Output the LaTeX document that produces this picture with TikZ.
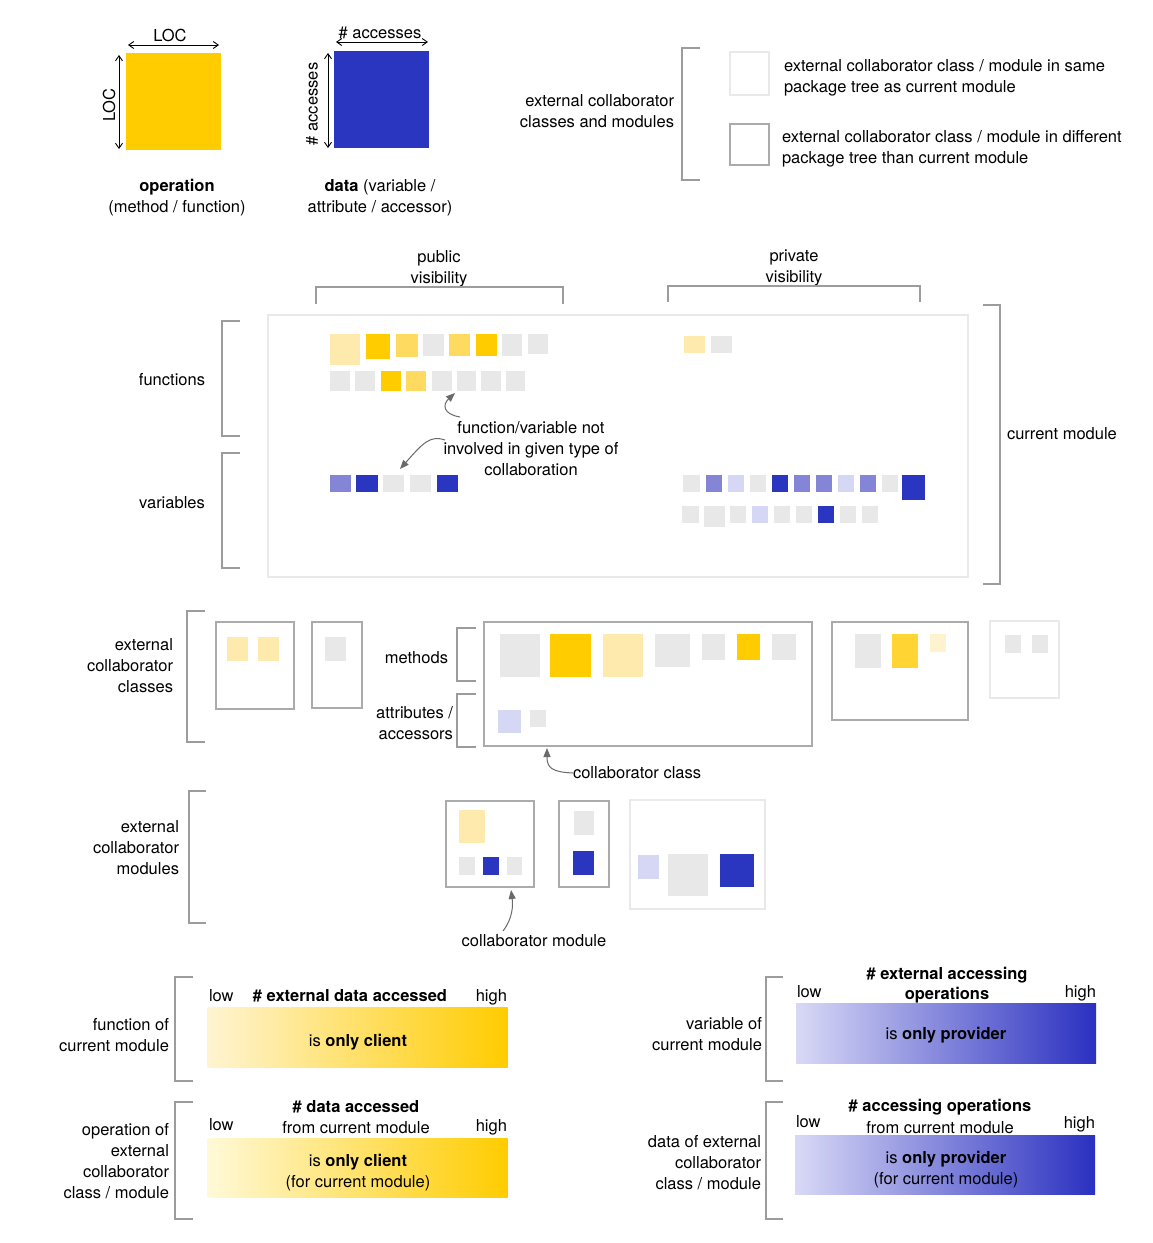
\documentclass[tikz,border=0pt]{standalone}
\usepackage{fontspec}
\setmainfont{TeX Gyre Heros}
\usetikzlibrary{arrows.meta,calc}
\definecolor{yfull}{HTML}{FFCC00}
\definecolor{ymid}{HTML}{FFDA60}
\definecolor{ylight}{HTML}{FFEAAD}
\definecolor{yvlight}{HTML}{FFF3CF}
\definecolor{ybright}{HTML}{FFD433}
\definecolor{ygradA}{HTML}{FFF4D2}
\definecolor{ygradB}{HTML}{FFF9D8}
\definecolor{bfull}{HTML}{2A35C0}
\definecolor{bmid}{HTML}{8585D8}
\definecolor{blight}{HTML}{D6D6F5}
\definecolor{bgradA}{HTML}{D9D9F6}
\definecolor{bgradB}{HTML}{2A30C0}
\definecolor{gsq}{HTML}{E8E8E8}
\definecolor{bdark}{HTML}{ABABAB}
\definecolor{blightb}{HTML}{E9E9E9}
\definecolor{brkc}{HTML}{9C9C9C}
\definecolor{annc}{HTML}{6A6A6A}
\newcommand\msq[6]{\node[inner sep=0pt,outer sep=0pt,fill=#6,minimum width={(#4-#2)*1pt},minimum height={(#5-#3)*1pt}] (#1) at ({(#2+#4)/2},{(#3+#5)/2}) {};}
\newcommand\mbx[6]{\node[inner sep=0pt,outer sep=0pt,draw=#6,line width=2pt,minimum width={(#4-#2)*1pt},minimum height={(#5-#3)*1pt}] (#1) at ({(#2+#4)/2},{(#3+#5)/2}) {};}
\begin{document}
\begin{tikzpicture}[x=1pt,y=-1pt,
 every node/.style={font=\fontsize{16.5}{21}\selectfont, inner sep=0pt, outer sep=0pt},
 brk/.style={draw=brkc, line width=1.3pt},
 dimarrow/.style={{Straight Barb[length=5pt,width=7pt]}-{Straight Barb[length=5pt,width=7pt]}, line width=0.9pt, draw=black},
 ann/.style={-{Triangle[length=9pt,width=7pt]}, draw=annc, fill=none, line width=1pt},
 lbl/.style={anchor=base},
]
\fill[white] (0,0) rectangle (1152,1243);
\useasboundingbox (0,0) rectangle (1152,1243);

% ---------- top-left legend ----------
\msq{opsq}{126}{53}{221}{150}{yfull}
\draw[dimarrow] ($(opsq.north west)+(2,-8)$) -- ($(opsq.north east)+(-2,-8)$);
\draw[dimarrow] ($(opsq.north west)+(-7,2)$) -- ($(opsq.south west)+(-7,-1)$);
\node[lbl] (loch) at (170,41) {LOC};
\node[rotate=90] (locv) at (109,105) {LOC};
\node[align=center] (optxt) at (177,197.5) {\textbf{operation}\\(method / function)};

\msq{datsq}{334}{51}{429}{148}{bfull}
\draw[dimarrow] ($(datsq.north west)+(2,-9)$) -- ($(datsq.north east)+(-1,-9)$);
\draw[dimarrow] ($(datsq.north west)+(-6,2)$) -- ($(datsq.south west)+(-6,0)$);
\node[lbl] (acch) at (380,38) {\# accesses};
\node[rotate=90] (accv) at (312,104) {\# accesses};
\node[align=center] (dattxt) at (380,197.5) {\textbf{data} (variable /\\attribute / accessor)};

% ---------- top-right legend ----------
\node[align=right, anchor=east] (ecltxt) at (674,111) {external collaborator\\classes and modules};
\draw[brk] (700,48) -- (682,48) -- (682,180) -- (700,180);
\mbx{leg1}{730}{52}{769}{95}{blightb}
\mbx{leg2}{730}{124}{769}{165}{bdark}
\node[align=left, anchor=west] (leg1t) at (784,78) {external collaborator class / module in same\\package tree as current module};
\node[align=left, anchor=west] (leg2t) at (782,149) {external collaborator class / module in different\\package tree than current module};

% ---------- visibility ----------
\node[align=center] (pubt) at (439,268.5) {public\\visibility};
\draw[brk] (316,304) -- (316,287) -- (563,287) -- (563,304);
\node[align=center] (privt) at (794,268) {private\\visibility};
\draw[brk] (668,302) -- (668,286) -- (920,286) -- (920,302);

% ---------- current module ----------
\mbx{cmod}{268}{315}{968}{577}{blightb}
\draw[brk] (983,305) -- (1000,305) -- (1000,584) -- (983,584);
\node[anchor=west] (cmodt) at (1007,434) {current module};

\draw[brk] (240,321) -- (222,321) -- (222,436) -- (240,436);
\node (funct) at (172,380) {functions};
\draw[brk] (240,453) -- (222,453) -- (222,568) -- (240,568);
\node (vart) at (172,503) {variables};

% functions public
\msq{f1a}{330}{334}{360}{365}{ylight}
\msq{f1b}{366}{334}{390}{359}{yfull}
\msq{f1c}{396}{334}{418}{357}{ymid}
\msq{f1d}{423}{334}{444}{356}{gsq}
\msq{f1e}{449}{334}{470}{356}{ymid}
\msq{f1f}{476}{334}{497}{356}{yfull}
\msq{f1g}{502}{334}{522}{356}{gsq}
\msq{f1h}{528}{334}{548}{354}{gsq}
\msq{f2a}{330}{371}{350}{391}{gsq}
\msq{f2b}{355}{371}{375}{391}{gsq}
\msq{f2c}{381}{371}{401}{391}{yfull}
\msq{f2d}{406}{371}{426}{391}{ymid}
\msq{f2e}{432}{371}{452}{391}{gsq}
\msq{f2f}{457}{371}{476}{391}{gsq}
\msq{f2g}{481}{371}{501}{391}{gsq}
\msq{f2h}{506}{371}{525}{391}{gsq}
% functions private
\msq{p1}{684}{336}{705}{353}{ylight}
\msq{p2}{711}{336}{732}{353}{gsq}
% variables public
\msq{v1}{330}{475}{351}{492}{bmid}
\msq{v2}{356}{475}{378}{492}{bfull}
\msq{v3}{383}{475}{404}{492}{gsq}
\msq{v4}{410}{475}{431}{492}{gsq}
\msq{v5}{437}{475}{458}{492}{bfull}
% variables private
\msq{w1}{683}{475}{700}{492}{gsq}
\msq{w2}{706}{475}{722}{492}{bmid}
\msq{w3}{728}{475}{744}{492}{blight}
\msq{w4}{750}{475}{766}{492}{gsq}
\msq{w5}{772}{475}{788}{492}{bfull}
\msq{w6}{794}{475}{810}{492}{bmid}
\msq{w7}{816}{475}{832}{492}{bmid}
\msq{w8}{838}{475}{854}{492}{blight}
\msq{w9}{860}{475}{876}{492}{bmid}
\msq{w10}{882}{475}{898}{492}{gsq}
\msq{w11}{902}{475}{925}{500}{bfull}
\msq{x1}{682}{506}{699}{523}{gsq}
\msq{x2}{704}{506}{725}{527}{gsq}
\msq{x3}{730}{506}{746}{523}{gsq}
\msq{x4}{752}{506}{768}{523}{blight}
\msq{x5}{774}{506}{790}{523}{gsq}
\msq{x6}{796}{506}{812}{523}{gsq}
\msq{x7}{818}{506}{834}{523}{bfull}
\msq{x8}{840}{506}{856}{523}{gsq}
\msq{x9}{862}{506}{878}{523}{gsq}

\node[align=center] (annt) at (531,449) {function/variable not\\involved in given type of\\collaboration};
\coordinate (a1s) at (460,417);
\coordinate (a2s) at (445,440);
\draw[ann] (a1s) .. controls (442,414) and (443,404) .. ($(f2f.south west)+(-2,2)$);
\draw[ann] (a2s) .. controls (430,435) and (423,443) .. ($(v3.north east)+(-4,-6)$);

% ---------- external collaborator classes ----------
\draw[brk] (205,611) -- (187,611) -- (187,742) -- (205,742);
\node[align=right, anchor=east] (ecct) at (173,666) {external\\collaborator\\classes};
\mbx{ca}{216}{622}{294}{709}{bdark}
\msq{ca1}{227}{637}{248}{661}{ylight}
\msq{ca2}{258}{637}{279}{661}{ylight}
\mbx{cb}{312}{622}{362}{708}{bdark}
\msq{cb1}{325}{637}{346}{661}{gsq}

\node[anchor=east] (metht) at (448,658) {methods};
\draw[brk] (476,628) -- (457,628) -- (457,681) -- (476,681);
\node[align=right, anchor=east] (attrt) at (453,723) {attributes /\\accessors};
\draw[brk] (476,694) -- (457,694) -- (457,747) -- (476,747);

\mbx{cc}{484}{622}{812}{746}{bdark}
\msq{cc1}{500}{634}{540}{677}{gsq}
\msq{cc2}{550}{634}{591}{677}{yfull}
\msq{cc3}{603}{634}{643}{677}{ylight}
\msq{cc4}{655}{634}{690}{667}{gsq}
\msq{cc5}{702}{634}{725}{660}{gsq}
\msq{cc6}{737}{634}{760}{660}{yfull}
\msq{cc7}{772}{634}{796}{660}{gsq}
\msq{cc8}{498}{710}{521}{733}{blight}
\msq{cc9}{530}{710}{546}{727}{gsq}

\mbx{cd}{832}{622}{968}{720}{bdark}
\msq{cd1}{855}{634}{881}{668}{gsq}
\msq{cd2}{892}{634}{918}{668}{ybright}
\msq{cd3}{930}{634}{946}{652}{yvlight}

\mbx{ce}{990}{621}{1059}{698}{blightb}
\msq{ce1}{1005}{635}{1021}{653}{gsq}
\msq{ce2}{1032}{635}{1048}{653}{gsq}

\node[anchor=west] (cct) at (573,773) {collaborator class};
\draw[ann] (cct.west) .. controls (552,772) and (547,768) .. ($(cc.south west)+(63,2)$);

% ---------- external collaborator modules ----------
\draw[brk] (206,791) -- (189,791) -- (189,923) -- (206,923);
\node[align=right, anchor=east] (ecmt) at (179,848) {external\\collaborator\\modules};
\mbx{ma}{446}{801}{534}{887}{bdark}
\msq{ma1}{459}{810}{485}{843}{ylight}
\msq{ma2}{459}{857}{475}{875}{gsq}
\msq{ma3}{483}{857}{499}{875}{bfull}
\msq{ma4}{507}{857}{522}{875}{gsq}
\mbx{mb}{559}{801}{609}{887}{bdark}
\msq{mb1}{574}{811}{594}{835}{gsq}
\msq{mb2}{573}{851}{594}{875}{bfull}
\mbx{mc}{630}{800}{765}{909}{blightb}
\msq{mc1}{638}{855}{659}{879}{blight}
\msq{mc2}{668}{854}{708}{896}{gsq}
\msq{mc3}{720}{854}{754}{887}{bfull}

\node (cmt) at (534,941) {collaborator module};
\coordinate (a4s) at (503,931);
\draw[ann] (a4s) .. controls (513,918) and (513,905) .. ($(ma.south west)+(65,3)$);

% ---------- gradient bars ----------
\draw[brk] (193,977) -- (175,977) -- (175,1081) -- (193,1081);
\node[align=right, anchor=east] (g1l) at (169,1035.5) {function of\\current module};
\node[left color=ygradA, right color=yfull, minimum width=300pt, minimum height=60pt] (bar1) at (357.5,1037.7) {};
\node[anchor=base] (bar1t) at (358,1046) {is \textbf{only client}};
\node[anchor=base west] (g1lo) at (209,1001) {low};
\node[anchor=base] (g1t) at (350,1001) {\textbf{\# external data accessed}};
\node[anchor=base east] (g1hi) at (507,1001) {high};

\draw[brk] (193,1102) -- (175,1102) -- (175,1219) -- (193,1219);
\node[align=right, anchor=east] (g2l) at (169,1161.5) {operation of\\external\\collaborator\\class / module};
\node[left color=ygradB, right color=yfull, minimum width=300pt, minimum height=59pt] (bar2) at (357.5,1168) {};
\node[anchor=base] (bar2t) at (358,1166) {is \textbf{only client}};
\node[anchor=base] (bar2t2) at (358,1187) {(for current module)};
\node[anchor=base west] (g2lo) at (209,1130) {low};
\node[anchor=base] (g2t) at (356,1112) {\textbf{\# data accessed}};
\node[anchor=base] (g2t2) at (356,1133) {from current module};
\node[anchor=base east] (g2hi) at (507,1131) {high};

\draw[brk] (783,977) -- (766,977) -- (766,1081) -- (783,1081);
\node[align=right, anchor=east] (g3l) at (762,1034.5) {variable of\\current module};
\node[left color=bgradA, right color=bgradB, minimum width=300pt, minimum height=60pt] (bar3) at (946,1033.7) {};
\node[anchor=base] (bar3t) at (946,1039) {is \textbf{only provider}};
\node[anchor=base west] (g3lo) at (797,997) {low};
\node[anchor=base] (g3t) at (947,979) {\textbf{\# external accessing}};
\node[anchor=base] (g3t2) at (947,999) {\textbf{operations}};
\node[anchor=base east] (g3hi) at (1096,997) {high};

\draw[brk] (783,1102) -- (766,1102) -- (766,1219) -- (783,1219);
\node[align=right, anchor=east] (g4l) at (761,1163) {data of external\\collaborator\\class / module};
\node[left color=bgradA, right color=bgradB, minimum width=300pt, minimum height=59pt] (bar4) at (945,1164.7) {};
\node[anchor=base] (bar4t) at (946,1163) {is \textbf{only provider}};
\node[anchor=base] (bar4t2) at (946,1184) {(for current module)};
\node[anchor=base west] (g4lo) at (796,1127) {low};
\node[anchor=base] (g4t) at (940,1111) {\textbf{\# accessing operations}};
\node[anchor=base] (g4t2) at (940,1133) {from current module};
\node[anchor=base east] (g4hi) at (1095,1128) {high};
\end{tikzpicture}
\end{document}
